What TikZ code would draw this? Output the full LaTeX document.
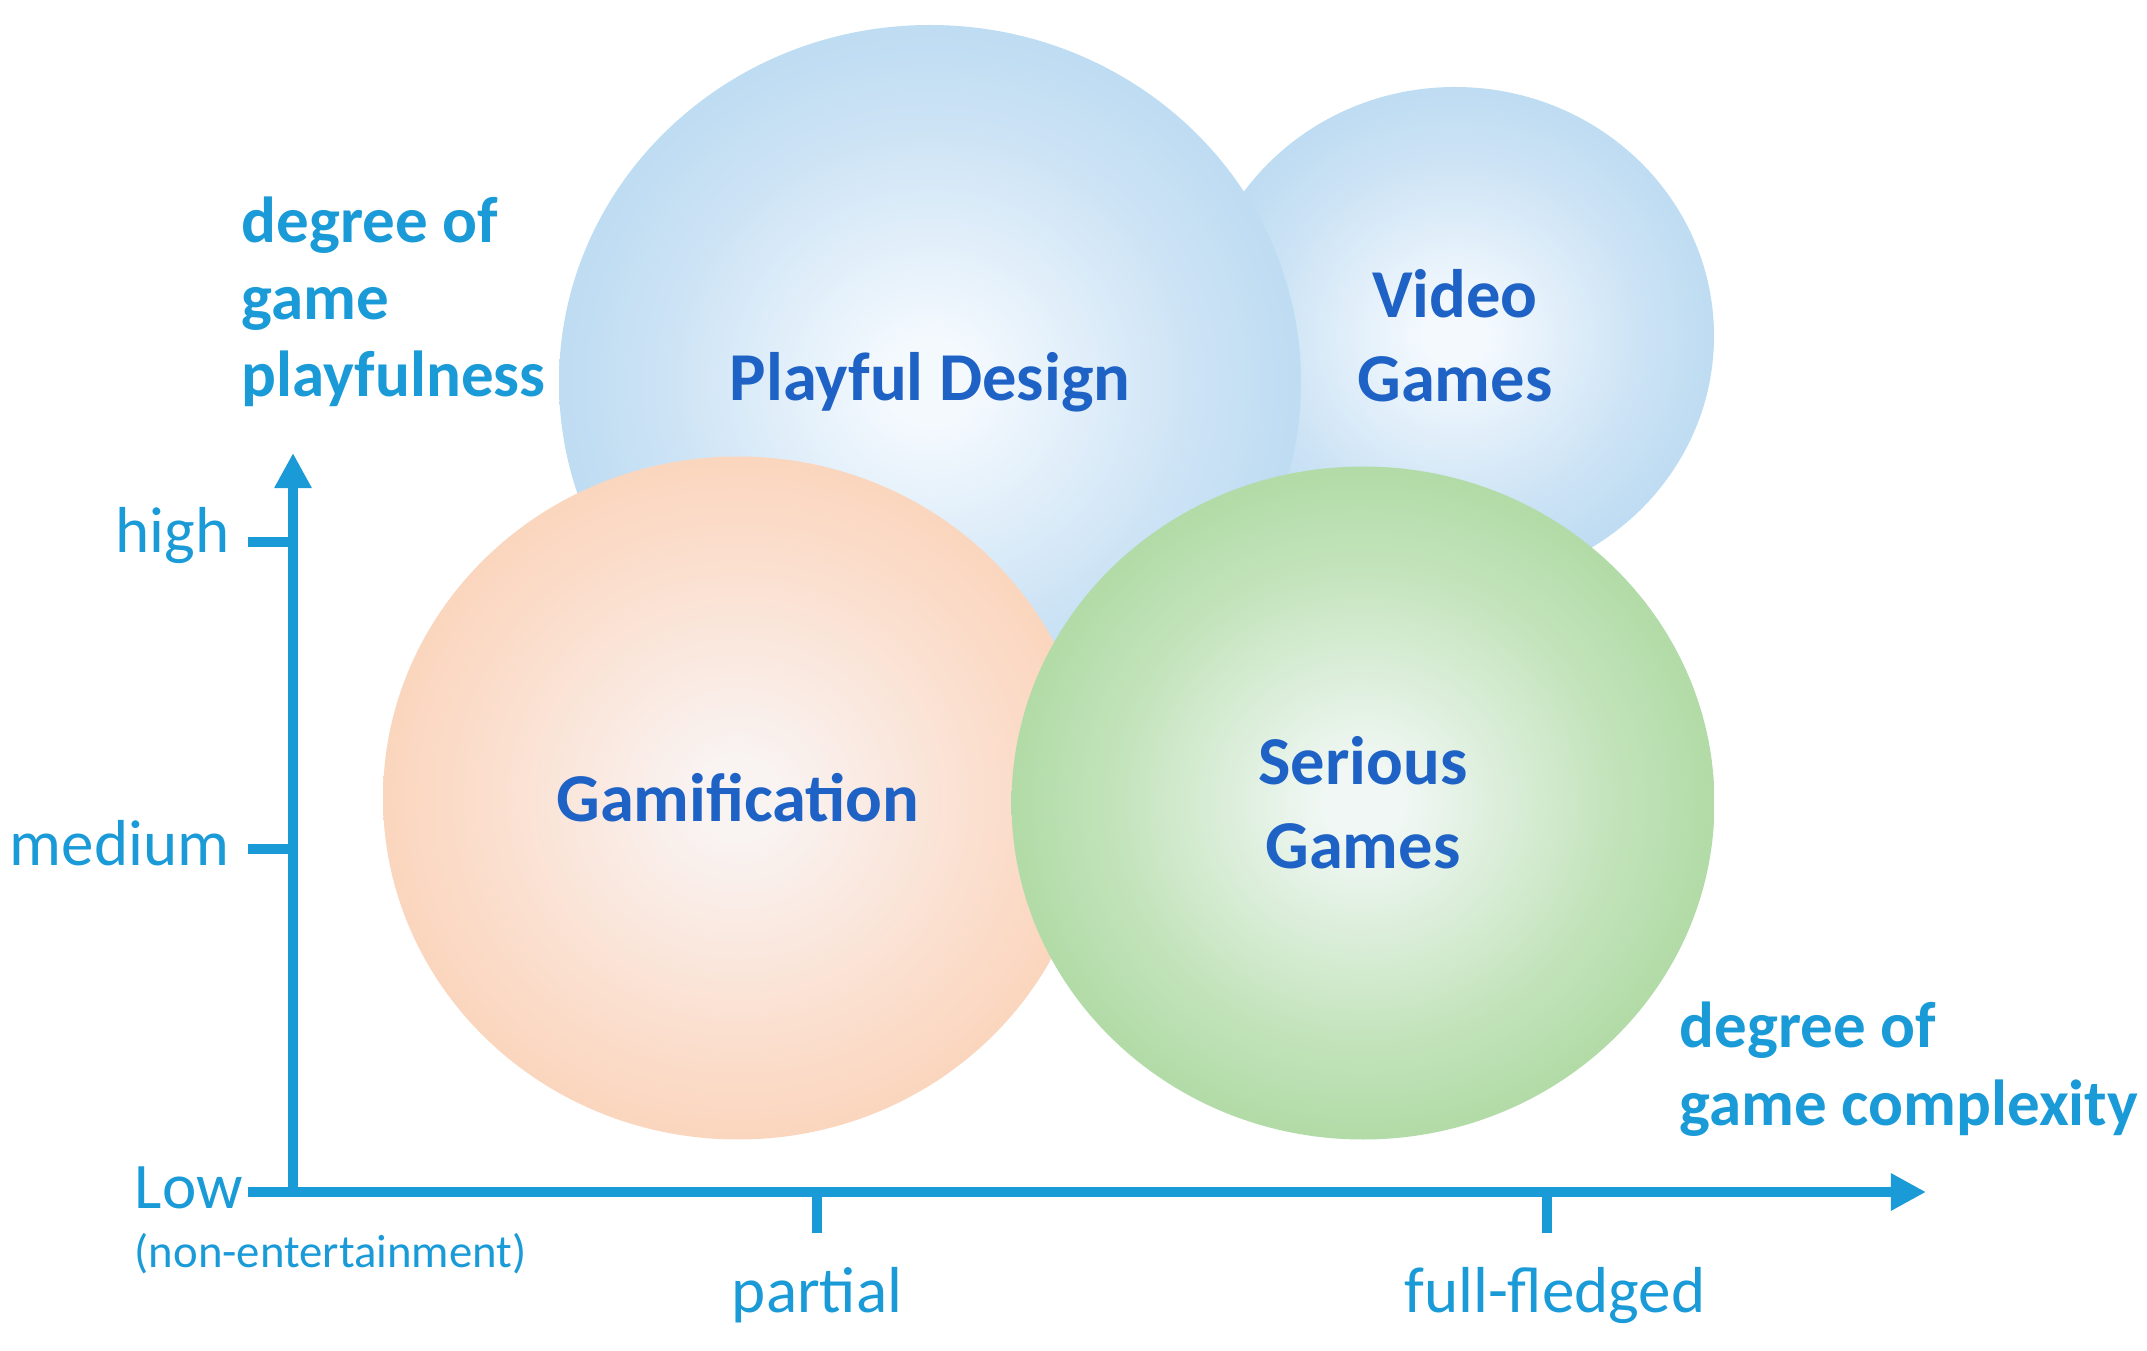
\documentclass[tikz,border=0pt]{standalone}
\usepackage{fontspec}
\setmainfont{Carlito}
\usetikzlibrary{arrows.meta,shapes.geometric}

\definecolor{axisblue}{RGB}{26,155,216}
\definecolor{capblue}{RGB}{30,98,198}
\definecolor{pdedge}{RGB}{172,210,238}
\definecolor{pdmid}{RGB}{204,227,245}
\definecolor{pdcore}{RGB}{244,249,254}
\definecolor{gmedge}{RGB}{252,203,170}
\definecolor{gmmid}{RGB}{251,222,205}
\definecolor{gmcore}{RGB}{249,243,242}
\definecolor{sgedge}{RGB}{156,208,142}
\definecolor{sgmid}{RGB}{194,227,186}
\definecolor{sgcore}{RGB}{240,247,244}

\pgfdeclareradialshading{blueball}{\pgfpoint{0bp}{0bp}}{color(0bp)=(pdcore); color(3bp)=(pdcore); color(18bp)=(pdmid); color(34bp)=(pdedge); color(50bp)=(pdedge)}
\pgfdeclareradialshading{peachball}{\pgfpoint{0bp}{0bp}}{color(0bp)=(gmcore); color(3bp)=(gmcore); color(18bp)=(gmmid); color(34bp)=(gmedge); color(50bp)=(gmedge)}
\pgfdeclareradialshading{greenball}{\pgfpoint{0bp}{0bp}}{color(0bp)=(sgcore); color(3bp)=(sgcore); color(18bp)=(sgmid); color(34bp)=(sgedge); color(50bp)=(sgedge)}

\begin{document}
\begin{tikzpicture}[font=\fontsize{18.5}{22}\selectfont,
  ball/.style={ellipse,inner sep=0pt,text=capblue,align=center,font=\fontsize{19.5}{24}\selectfont\bfseries},
  axis/.style={draw=axisblue,line width=2.8pt},
  lbl/.style={text=axisblue,inner sep=0pt},
  title/.style={lbl,anchor=base west,font=\fontsize{18.5}{22}\selectfont\bfseries}]
\useasboundingbox (0,0) rectangle (21.47,13.5);
% the four fields
\node[ball,shading=blueball,minimum width=5.18cm,minimum height=4.98cm] (video) at (14.55,10.14) {Video\\Games};
\node[ball,shading=blueball,minimum width=7.42cm,minimum height=7.14cm] (playful) at (9.30,9.68) {Playful Design};
\node[ball,shading=peachball,minimum width=7.10cm,minimum height=6.83cm] (gamif) at (7.38,5.52) {Gamification};
\node[ball,shading=greenball,minimum width=7.03cm,minimum height=6.73cm] (serious) at (13.63,5.47) {Serious\\Games};
% axes
\coordinate (origin) at (2.93,1.58);
\coordinate (ytip) at (2.93,8.97);
\coordinate (xtip) at (19.26,1.58);
\draw[axis,-{Triangle[length=10pt,width=10pt]}] (origin) -- (ytip);
\draw[axis,-{Triangle[length=10pt,width=10pt]}] (origin) -- (xtip);
\foreach \y in {8.08,5.01,1.58}
  \draw[axis] (2.48,\y) -- (2.93,\y);
\foreach \x in {8.17,15.47}
  \draw[axis] (\x,1.58) -- (\x,1.17);
% tick labels
\node[lbl,anchor=base east] (high) at (2.30,7.97) {high};
\node[lbl,anchor=base east] (medium) at (2.30,4.85) {medium};
\node[lbl,anchor=base west] (low) at (1.34,1.42) {Low};
\node[lbl,anchor=base west,font=\fontsize{13.3}{16}\selectfont] (nonent) at (1.34,0.83) {(non-entertainment)};
\node[lbl,anchor=base] (partial) at (8.17,0.38) {partial};
\node[lbl,anchor=base] (full) at (15.55,0.38) {full-fledged};
% axis titles
\node[title] (ytitle1) at (2.41,11.07) {degree of};
\node[title] (ytitle2) at (2.41,10.30) {game};
\node[title] (ytitle3) at (2.41,9.53) {playfulness};
\node[title] (xtitle1) at (16.79,3.03) {degree of};
\node[title] (xtitle2) at (16.79,2.25) {game complexity};
\end{tikzpicture}
\end{document}
